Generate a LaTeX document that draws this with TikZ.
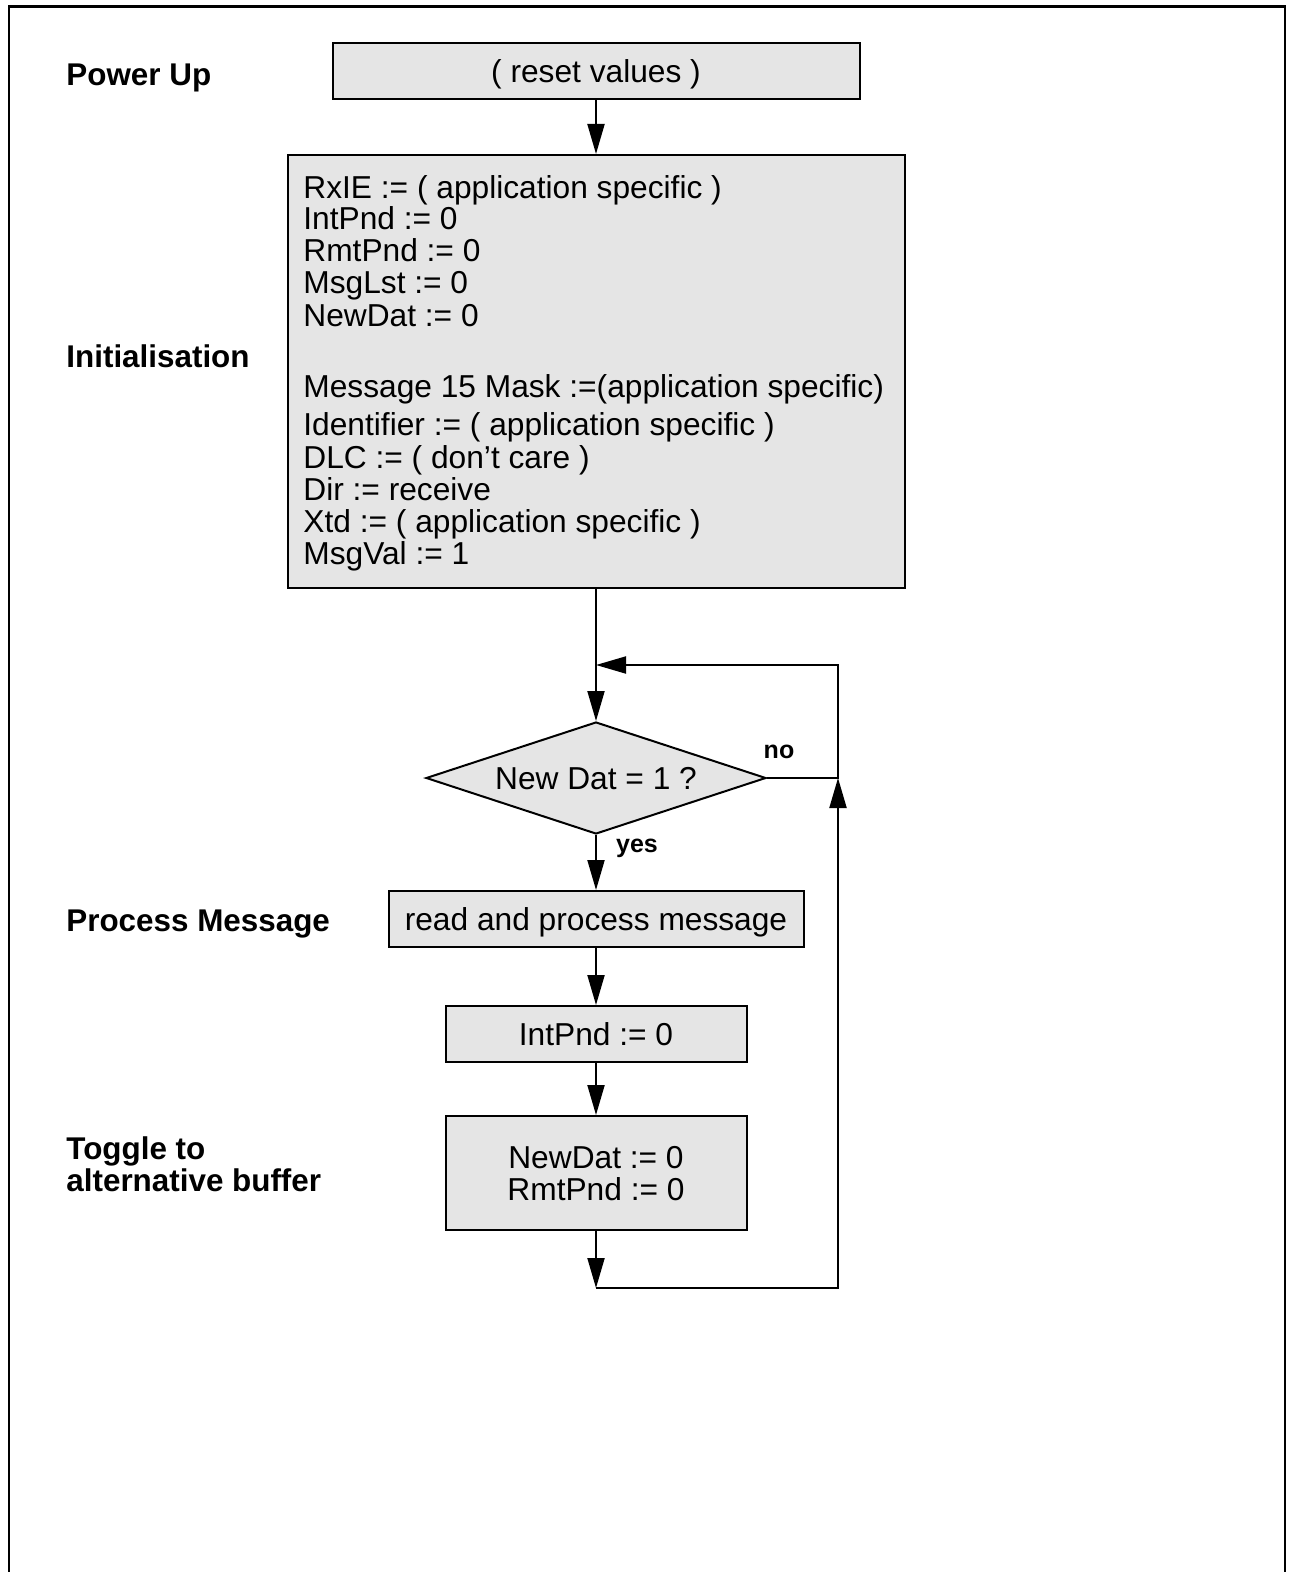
\documentclass[tikz,border=0pt]{standalone}
\usepackage{fontspec}
\setmainfont{Liberation Sans}
\usetikzlibrary{arrows.meta,shapes.geometric}
\definecolor{boxfill}{HTML}{E5E5E5}
\tikzset{
  box/.style={draw=black, line width=1pt, fill=boxfill, inner sep=0pt,
    font=\fontsize{15.85}{16}\selectfont, align=center, text depth=0pt},
  conn/.style={draw=black, line width=1pt, -{Triangle[length=15pt,width=8.5pt]}},
  plain/.style={draw=black, line width=1pt},
  lbl/.style={anchor=base west, inner sep=0pt, font=\fontsize{15.7}{16}\selectfont\bfseries, align=left},
  small/.style={inner sep=0pt, font=\fontsize{12.5}{13}\selectfont\bfseries},
  linetext/.style={anchor=base west, inner sep=0pt, font=\fontsize{15.85}{16}\selectfont},
}
\begin{document}
\begin{tikzpicture}[x=0.5pt,y=-0.5pt]
\useasboundingbox (0,0) rectangle (1290,1572);
\fill[white] (0,0) rectangle (1290,1572);
\clip (0,0) rectangle (1290,1572);
% frame
\draw[line width=1.3pt] (9,1600) -- (9,6.5) -- (1285,6.5) -- (1285,1600);

% labels
\node[lbl] (lPow) at (66,86) {Power Up};
\node[lbl] (lInit) at (66,368) {Initialisation};
\node[lbl] (lProc) at (66,931) {Process Message};
\node[lbl] (lTog1) at (66,1159) {Toggle to};
\node[lbl] (lTog2) at (66,1191) {alternative buffer};

% boxes
\node[box, minimum width=263.5pt, minimum height=28pt] (reset) at (596,71) {( reset values )};
\node[box, minimum width=308.5pt, minimum height=216.5pt] (init) at (596,371.5) {};
\foreach \t/\y [count=\i] in {
  {RxIE := ( application specific )}/199,
  {IntPnd := 0}/230,
  {RmtPnd := 0}/262,
  {MsgLst := 0}/294,
  {NewDat := 0}/327,
  {Message 15 Mask :=(application specific)}/398,
  {Identifier := ( application specific )}/436,
  {DLC := ( don’t care )}/468,
  {Dir := receive}/500,
  {Xtd := ( application specific )}/532,
  {MsgVal := 1}/564}
  \node[linetext] (it\i) at (303,\y) {\t};

\node[box, shape=diamond, aspect=3, minimum width=170pt, minimum height=56pt] (dec) at (596,778) {New Dat = 1 ?};
\node[box, minimum width=207.5pt, minimum height=28pt] (proc) at (596,919) {read and process message};
\node[box, minimum width=150.5pt, minimum height=28pt] (intp) at (596,1034) {IntPnd := 0};
\node[box, minimum width=150.5pt, minimum height=57pt] (tog) at (596,1173) {NewDat := 0\\RmtPnd := 0};

\node[small] (no) at (779,752) {no};
\node[small] (yes) at (637,848) {yes};

% coordinates
\coordinate (cBL) at (596,1288);
\coordinate (cBR) at (838,1288);
\coordinate (cR) at (838,778);
\coordinate (cTR) at (838,665);
\coordinate (cTL) at (596,665);

% connectors
\draw[conn] (reset) -- (init);
\draw[conn] (init.south) -- (dec.north);
\draw[conn] (dec.south) -- (proc.north);
\draw[conn] (proc) -- (intp);
\draw[conn] (intp) -- (tog);
\draw[conn] (tog.south) -- (cBL);
\draw[conn] (cBL) -- (cBR) -- (cR);
\draw[conn] (dec.east) -- (cR) -- (cTR) -- (cTL);
\end{tikzpicture}
\end{document}
